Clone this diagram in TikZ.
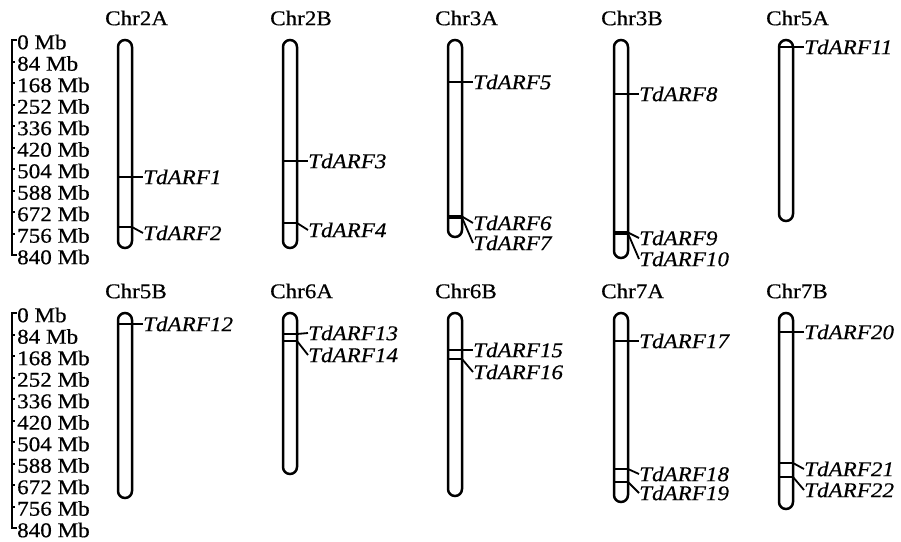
\documentclass[tikz,border=0pt]{standalone}
\usepackage{fontspec}
\setmainfont{Liberation Serif}[FakeStretch=1.1,FakeBold=0.5]
\tikzset{
  chrom/.style={line width=2.5pt, rounded corners=7pt},
  genetick/.style={line width=2.2pt},
  lead/.style={line width=1.8pt},
  axisline/.style={line width=2pt},
  genelabel/.style={font=\itshape\fontsize{21}{23}\selectfont, anchor=west, inner sep=0pt},
  chrlabel/.style={font=\fontsize{21}{23}\selectfont, anchor=west, inner sep=0pt},
  mblabel/.style={font=\fontsize{21}{23}\selectfont, anchor=west, inner sep=0pt},
}
% chromosome: name, centre x, top y, bottom y, title y
\newcommand\chromo[5]{%
  \draw[chrom] (#2-7,#3) rectangle (#2+7,#4);
  \node[chrlabel] (#1) at (#2-20,#5) {#1};
}
% gene: centre x, position y, label y, name
\newcommand\gene[4]{%
  \draw[genetick] (#1-7,#2) -- (#1+7,#2);
  \coordinate (#4-pos) at (#1+7,#2);
  \node[genelabel] (#4) at (#1+18,#3) {#4};
  \draw[lead] (#4-pos) -- (#4.west);
}
% ruler: name, top y
\newcommand\ruler[2]{%
  \coordinate (#1-top) at (12,#2);
  \coordinate (#1-bot) at (12,#2+215);
  \draw[axisline] ([xshift=5pt]#1-top) -- (#1-top) -- (#1-bot) -- ([xshift=5pt]#1-bot);
  \foreach \i in {1,...,9}{
    \draw[axisline] (12,#2+21.5*\i) -- (14.5,#2+21.5*\i);
  }
  \foreach \i/\v in {0/0,1/84,2/168,3/252,4/336,5/420,6/504,7/588,8/672,9/756,10/840}{
    \node[mblabel] (#1-\v) at (17,#2+21.5*\i+2) {\v\ Mb};
  }
}
\begin{document}
\begin{tikzpicture}[x=1pt,y=-1pt]
\useasboundingbox (0,0) rectangle (901,541);

% ---- upper row ----
\ruler{rA}{40}
\chromo{Chr2A}{125}{40}{248}{18}
\chromo{Chr2B}{290}{40}{248}{18}
\chromo{Chr3A}{455}{40}{237}{18}
\chromo{Chr3B}{621}{40}{258}{18}
\chromo{Chr5A}{786}{40}{221}{18}

\gene{125}{177}{177}{TdARF1}
\gene{125}{227}{233}{TdARF2}
\gene{290}{161}{161}{TdARF3}
\gene{290}{223}{230}{TdARF4}
\gene{455}{82}{82}{TdARF5}
\gene{455}{216.5}{223}{TdARF6}
\gene{455}{217.5}{243}{TdARF7}
\gene{621}{94}{94}{TdARF8}
\gene{621}{232.5}{238}{TdARF9}
\gene{621}{233.5}{259}{TdARF10}
\gene{786}{47}{47}{TdARF11}

% ---- lower row ----
\ruler{rB}{313}
\chromo{Chr5B}{125}{313}{498}{291}
\chromo{Chr6A}{290}{313}{474}{291}
\chromo{Chr6B}{455}{313}{496}{291}
\chromo{Chr7A}{621}{313}{502}{291}
\chromo{Chr7B}{786}{313}{509}{291}

\gene{125}{324}{324}{TdARF12}
\gene{290}{334}{333}{TdARF13}
\gene{290}{341}{355}{TdARF14}
\gene{455}{350}{350}{TdARF15}
\gene{455}{359}{372}{TdARF16}
\gene{621}{341}{341}{TdARF17}
\gene{621}{469}{474}{TdARF18}
\gene{621}{482}{493}{TdARF19}
\gene{786}{332}{332}{TdARF20}
\gene{786}{463}{469}{TdARF21}
\gene{786}{477}{490}{TdARF22}
\end{tikzpicture}
\end{document}
